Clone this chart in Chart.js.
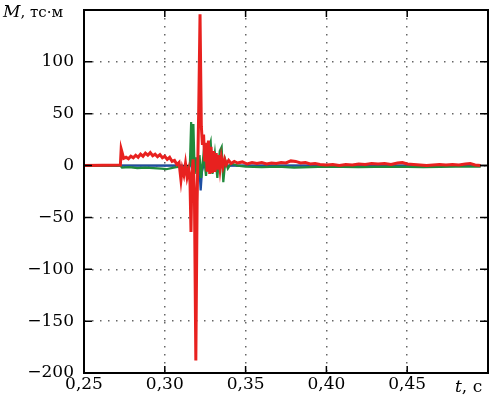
<!DOCTYPE html>
<html>
<head>
<meta charset="utf-8">
<script src="https://cdn.jsdelivr.net/npm/chart.js@4.4.0/dist/chart.umd.min.js"></script>
<style>
    html, body { margin: 0; padding: 0; background: #fff; }
</style>
</head>
<body>
<canvas id="momentChart" width="492" height="398"></canvas>
<script>
// time, s
var xTicks = [0.25, 0.30, 0.35, 0.40, 0.45, 0.50];
var yTicks = [-200, -150, -100, -50, 0, 50, 100, 150];

// red trace (t, M)
var redT = [0.2500, 0.2725, 0.2730, 0.2737, 0.2745, 0.2760, 0.2775, 0.2790, 0.2805, 0.2820,
            0.2835, 0.2850, 0.2865, 0.2880, 0.2895, 0.2910, 0.2925, 0.2940, 0.2955, 0.2970,
            0.2985, 0.3000, 0.3015, 0.3030, 0.3045, 0.3060, 0.3075, 0.3088, 0.3100, 0.3108,
            0.3118, 0.3128, 0.3138, 0.3148, 0.3156, 0.3162, 0.3168, 0.3175, 0.3183, 0.3192,
            0.3200, 0.3210, 0.3218, 0.3226, 0.3233, 0.3240, 0.3247, 0.3254, 0.3262, 0.3270,
            0.3278, 0.3286, 0.3294, 0.3302, 0.3310, 0.3318, 0.3326, 0.3334, 0.3342, 0.3350,
            0.3360, 0.3370, 0.3380, 0.3395, 0.3410, 0.3430, 0.3450, 0.3480, 0.3510, 0.3540,
            0.3570, 0.3600, 0.3630, 0.3660, 0.3690, 0.3720, 0.3750, 0.3780, 0.3810, 0.3840,
            0.3870, 0.3900, 0.3930, 0.3960, 0.4000, 0.4040, 0.4080, 0.4120, 0.4160, 0.4200,
            0.4240, 0.4280, 0.4320, 0.4360, 0.4400, 0.4440, 0.4470, 0.4500, 0.4540, 0.4580,
            0.4620, 0.4660, 0.4700, 0.4740, 0.4780, 0.4820, 0.4860, 0.4890, 0.4920, 0.4955];
var redM = [0, 0.5, 16, 12, 7, 8, 6.5, 9, 7.5, 10,
            8, 11, 9, 12, 10, 12.5, 9.5, 11, 8.5, 10.5,
            7.5, 9, 6, 8, 4, 5, 1, 3, -14, -3,
            -9, 2, -11, -4, -16, -64, -8, 6, -22, -188,
            -35, 55, 146, 38, 20, 30, 4, 22, -6, 24,
            -8, 18, -7, 14, -6, 12, -4, 10, -3, 8,
            -1, 6, 1, 5, 2, 4, 2.5, 3.5, 1.5, 3,
            2, 3, 1.5, 2.5, 2, 3, 2.5, 4.5, 4, 2.5,
            3, 1.5, 2, 1, 0.5, 1, 0, 1, 0.5, 1.5,
            1, 2, 1.5, 2, 1, 2.5, 3, 1.5, 1, 0.5,
            0, 0.5, 1, 0.5, 1, 0.5, 1.5, 2, 0.5, 0];

// green trace
var greenT = [0.2500, 0.2725, 0.2735, 0.2780, 0.2830, 0.2880, 0.2930, 0.2980, 0.3010, 0.3040,
              0.3070, 0.3100, 0.3130, 0.3155, 0.3163, 0.3170, 0.3177, 0.3185, 0.3195, 0.3205,
              0.3215, 0.3225, 0.3240, 0.3255, 0.3270, 0.3284, 0.3295, 0.3310, 0.3325, 0.3340,
              0.3352, 0.3362, 0.3375, 0.3390, 0.3410, 0.3450, 0.3500, 0.3600, 0.3700, 0.3800,
              0.3900, 0.4000, 0.4200, 0.4400, 0.4600, 0.4800, 0.4955];
var greenM = [0, 0, -2, -1.5, -2.5, -2, -2.5, -3, -3.5, -2.5,
              -1.5, -1, -3, 0, 42, -6, 40, -8, 8, -14,
              10, -12, 12, -10, 15, 23, -8, 12, -12, 14,
              18, -16, 5, -3, 2, 0, -1, -1.5, -1, -2,
              -1.5, -1, -1.5, -1, -1.5, -1, -1];

// blue trace
var blueT = [0.2500, 0.3100, 0.3150, 0.3165, 0.3180, 0.3200, 0.3215, 0.3222, 0.3230, 0.3245,
             0.3270, 0.3300, 0.3350, 0.3400, 0.4955];
var blueM = [0, 0, -3, 6, -5, 4, -6, -24, -6, 4,
             -4, 2, -1, 0, 0];

function pairs(ts, ms) {
    return ts.map(function (t, i) { return { x: t, y: ms[i] }; });
}

var FONT = 'DejaVu Serif';

var framePlugin = {
    id: 'frame',
    beforeDatasetsDraw: function (chart) {
        var ctx = chart.ctx, a = chart.chartArea;
        var y0 = chart.scales.y.getPixelForValue(0);
        ctx.save();
        ctx.strokeStyle = '#000';
        ctx.lineWidth = 1.5;
        ctx.beginPath();
        ctx.moveTo(a.left, y0);
        ctx.lineTo(a.right, y0);
        ctx.stroke();
        ctx.restore();
    },
    afterDraw: function (chart) {
        var ctx = chart.ctx, a = chart.chartArea;
        var xs = chart.scales.x, ys = chart.scales.y;
        ctx.save();
        ctx.strokeStyle = '#000';
        ctx.lineWidth = 1.5;
        xTicks.forEach(function (v) {
            var px = xs.getPixelForValue(v);
            ctx.beginPath();
            ctx.moveTo(px, a.bottom); ctx.lineTo(px, a.bottom - 7);
            ctx.moveTo(px, a.top); ctx.lineTo(px, a.top + 7);
            ctx.stroke();
        });
        yTicks.forEach(function (v) {
            var py = ys.getPixelForValue(v);
            ctx.beginPath();
            ctx.moveTo(a.left, py); ctx.lineTo(a.left + 8, py);
            ctx.moveTo(a.right, py); ctx.lineTo(a.right - 8, py);
            ctx.stroke();
        });
        ctx.lineWidth = 2;
        ctx.strokeRect(a.left, a.top, a.right - a.left, a.bottom - a.top);

        // axis titles
        ctx.fillStyle = '#000';
        ctx.textAlign = 'left';
        ctx.textBaseline = 'alphabetic';
        ctx.font = 'italic 17px ' + FONT;
        ctx.fillText('M', 3, 17);
        var w = ctx.measureText('M').width;
        ctx.font = '15px ' + FONT;
        ctx.fillText(', тс·м', 3 + w, 17);

        ctx.font = 'italic 17px ' + FONT;
        ctx.fillText('t', 455, 392);
        w = ctx.measureText('t').width;
        ctx.font = '17px ' + FONT;
        ctx.fillText(', с', 455 + w, 392);
        ctx.restore();
    }
};

var ctx = document.getElementById('momentChart');
var chart = new Chart(ctx, {
    type: 'line',
    data: {
        datasets: [{
            label: 'red',
            data: pairs(redT, redM),
            borderColor: '#e8211f',
            borderWidth: 3
        }, {
            label: 'green',
            data: pairs(greenT, greenM),
            borderColor: '#1f8a3b',
            borderWidth: 2.2
        }, {
            label: 'blue',
            data: pairs(blueT, blueM),
            borderColor: '#1e4fa3',
            borderWidth: 2.2
        }]
    },
    options: {
        responsive: false,
        animation: false,
        devicePixelRatio: 1,
        layout: {
            padding: { left: 0, right: 4, top: 10, bottom: 0 }
        },
        elements: {
            point: { radius: 0 },
            line: { tension: 0, borderJoinStyle: 'miter' }
        },
        plugins: {
            legend: { display: false },
            tooltip: { enabled: false }
        },
        scales: {
            x: {
                type: 'linear',
                min: 0.25,
                max: 0.50,
                afterBuildTicks: function (scale) {
                    scale.ticks = xTicks.map(function (v) { return { value: v }; });
                },
                afterFit: function (scale) {
                    scale.height = 25;
                    scale.paddingLeft = 0;
                    scale.paddingRight = 0;
                },
                ticks: {
                    color: '#000',
                    font: { family: FONT, size: 17 },
                    padding: 1,
                    maxRotation: 0,
                    autoSkip: false,
                    callback: function (v) {
                        if (v >= 0.5) return '';
                        return v.toFixed(2).replace('.', ',');
                    }
                },
                grid: { color: '#666', lineWidth: 1.5, drawTicks: false },
                border: { display: false, dash: [1.5, 6.5] }
            },
            y: {
                min: -200,
                max: 150,
                afterBuildTicks: function (scale) {
                    scale.ticks = yTicks.map(function (v) { return { value: v }; });
                },
                afterFit: function (scale) {
                    scale.width = 84;
                    scale.paddingTop = 0;
                    scale.paddingBottom = 0;
                },
                ticks: {
                    color: '#000',
                    font: { family: FONT, size: 17 },
                    padding: 10,
                    autoSkip: false,
                    callback: function (v) {
                        if (v >= 150) return '';
                        return v < 0 ? '\u2212' + Math.abs(v) : String(v);
                    }
                },
                grid: { color: '#666', lineWidth: 1.5, drawTicks: false },
                border: { display: false, dash: [1.5, 6.5] }
            }
        }
    },
    plugins: [framePlugin]
});
</script>
</body>
</html>
